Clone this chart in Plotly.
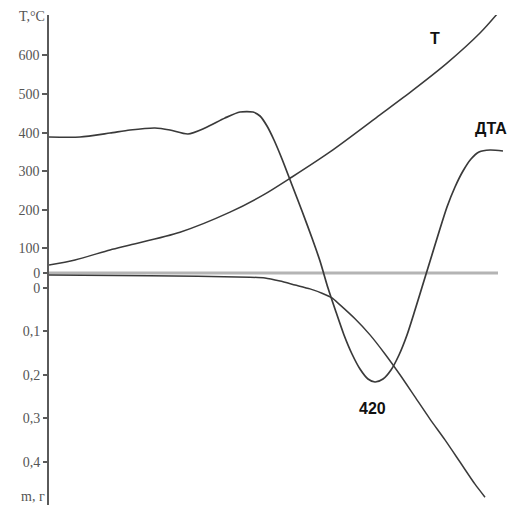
import plotly.graph_objects as go

# ---- data ----
# time axis (arbitrary minutes)
t_T = [0, 2.6, 6.1, 8.1, 13.1, 18.1, 21.4, 24.3, 28.1, 33.1, 36.4, 39.8, 43.1, 44.9]
T_vals = [57, 70, 96, 109, 142, 194, 238, 285, 350, 446, 510, 580, 658, 710]

t_DTA = [0, 3.1, 6.1, 8.1, 10.6, 12.1, 13.9, 15.6, 17.6, 19.1,
         20.4, 21.1, 21.8, 22.5, 23.3, 24.3, 25.3, 26.3, 27.1, 27.9,
         28.7, 29.5, 30.3, 31.1, 31.9, 32.6, 33.4, 34.2, 35.0, 35.8,
         36.6, 37.4, 38.2, 39.0, 39.8, 40.6, 41.4, 42.2, 43.0, 44.1, 45.4]
DTA_vals = [68, 68, 70, 71.5, 72.5, 71.5, 69.5, 72.5, 77.5, 80.5,
            80.5, 78.5, 73.5, 66.5, 57, 44, 31, 17.5, 6, -7.5,
            -19.5, -31, -40.5, -48, -53, -54.5, -53, -48.5, -41, -31,
            -18.5, -5.5, 7.5, 20.5, 33, 43, 51, 57, 60.5, 61.5, 61]

t_TG = [0, 10.1, 20.1, 21.6, 23.1, 24.6, 26.1, 27.3, 28.3, 29.1,
        30.6, 32.1, 33.6, 35.1, 36.6, 38.1, 39.6, 41.1, 42.6, 43.6]
TG_vals = [-0.030, -0.028, -0.025, -0.023, -0.016, -0.007, 0.002, 0.012, 0.023, 0.039,
           0.071, 0.108, 0.152, 0.200, 0.251, 0.302, 0.350, 0.401, 0.452, 0.482]

T_ticks = [100, 200, 300, 400, 500, 600]
m_ticks = [0, 0.1, 0.2, 0.3, 0.4]
m_labels = ["0", "0,1", "0,2", "0,3", "0,4"]
peak_label = "420"

line_col = "#3a3a3a"
axis_col = "#5a5a5a"
tick_font = dict(family="Liberation Serif, Times New Roman, serif", size=14, color="#555555")
lab_font = dict(family="Liberation Sans, Arial, sans-serif", size=16, color="#111111")

fig = go.Figure()
fig.add_trace(go.Scatter(x=t_T, y=T_vals, mode="lines", yaxis="y",
                         line=dict(color=line_col, width=1.5, shape="spline", smoothing=0.8),
                         showlegend=False))
fig.add_trace(go.Scatter(x=t_DTA, y=DTA_vals, mode="lines", yaxis="y3",
                         line=dict(color=line_col, width=1.7, shape="spline", smoothing=0.7),
                         showlegend=False))
fig.add_trace(go.Scatter(x=t_TG, y=TG_vals, mode="lines", yaxis="y2",
                         line=dict(color=line_col, width=1.5, shape="spline", smoothing=0.6),
                         showlegend=False))

# DTA zero baseline
fig.add_shape(type="line", xref="x", yref="y3", x0=0, x1=44.9, y0=0, y1=0,
              line=dict(color="#b4b4b4", width=3), layer="below")

common_tick = dict(ticks="outside", ticklen=5, tickwidth=1.5, tickcolor=axis_col,
                   tickfont=tick_font, showgrid=False, zeroline=False)

fig.update_layout(
    width=525, height=505,
    margin=dict(l=49, r=15, t=15, b=0),
    paper_bgcolor="white", plot_bgcolor="white",
    xaxis=dict(range=[0, 46.1], visible=False),
    yaxis=dict(range=[-564.8, 704.7], tickvals=T_ticks, ticktext=[str(v) for v in T_ticks],
               showline=True, linecolor=axis_col, linewidth=1.5, **common_tick),
    yaxis2=dict(range=[0.5, -0.629], overlaying="y", side="left", anchor="x",
                tickvals=m_ticks, ticktext=m_labels, showline=False, **common_tick),
    yaxis3=dict(range=[-116, 129], overlaying="y", side="left", anchor="x",
                tickvals=[0], ticktext=["0"], showline=False, **common_tick),
)

fig.add_annotation(text="T,°C", xref="paper", x=0, xanchor="right", xshift=-2,
                   yref="y", y=700, yanchor="middle", showarrow=False, font=tick_font)
fig.add_annotation(text="m, г", xref="paper", x=0, xanchor="right", xshift=-2,
                   yref="y2", y=0.48, yanchor="middle", showarrow=False, font=tick_font)

fig.add_annotation(text="<b>Т</b>", x=38.6, y=645, yref="y", showarrow=False, font=lab_font)
fig.add_annotation(text="<b>ДТА</b>", x=44.2, y=72.5, yref="y3", showarrow=False, font=lab_font)
fig.add_annotation(text="<b>" + peak_label + "</b>", x=32.3, y=-67.5, yref="y3",
                   showarrow=False, font=lab_font)
fig.add_annotation(text="<b>ТГ</b>", x=46.4, y=0.461, yref="y2", showarrow=False, font=lab_font)

fig.write_html("out.html", config={"displayModeBar": False},
               post_script="document.body.style.margin='0';document.body.style.overflow='hidden';")
